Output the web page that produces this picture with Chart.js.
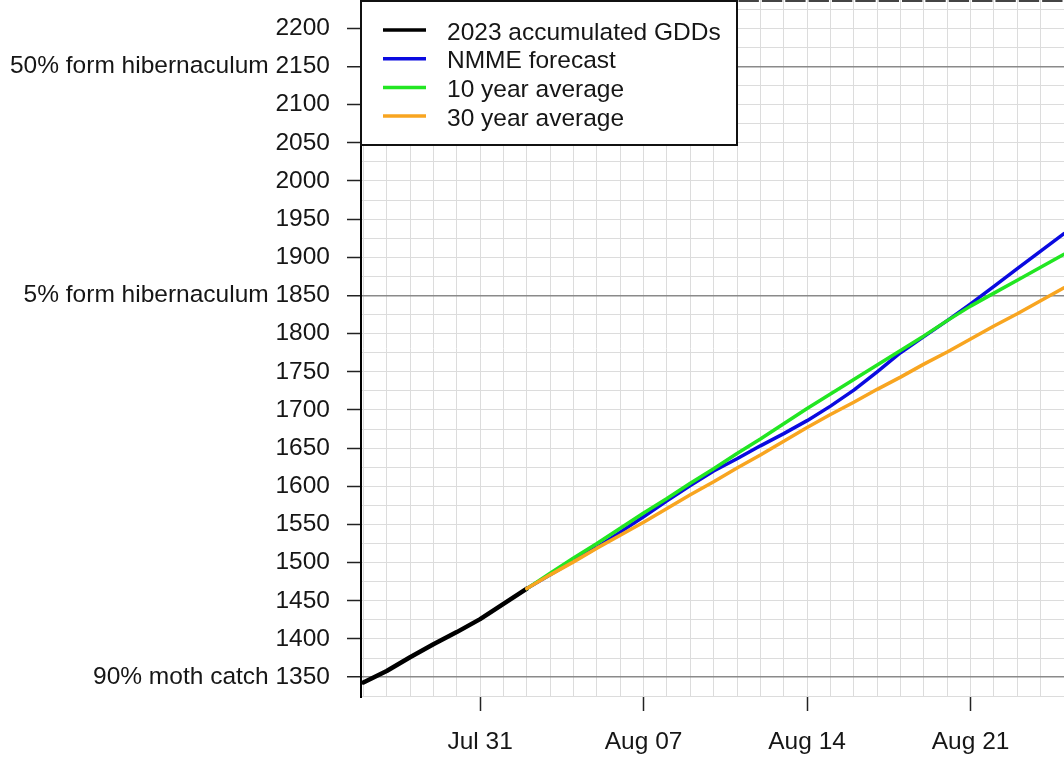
<!DOCTYPE html>
<html>
<head>
<meta charset="utf-8">
<script src="https://cdn.jsdelivr.net/npm/chart.js@4/dist/chart.umd.min.js"></script>
<style>
  html, body { margin: 0; padding: 0; background: #fff; }
  #wrap { width: 1064px; height: 759px; position: relative; }
</style>
</head>
<body>
<div id="wrap"><canvas id="gdd-chart"></canvas></div>
<script>
// days counted from Jul 31 (0)
const observedDays = [-5, -4, -3, -2, -1, 0, 1, 2];
const observedGdd = [1343, 1358, 1376, 1393, 1409, 1426, 1446, 1466];

const forecastDays = [2, 3, 4, 5, 6, 7, 8, 9, 10, 11, 12, 13, 14, 15, 16, 17, 18, 19, 20, 21, 22, 23, 24, 25];
const nmmeForecast = [1466, 1484, 1502, 1520, 1540, 1560, 1581, 1601, 1620, 1636, 1653, 1669, 1686, 1705, 1726, 1750, 1775, 1796, 1817, 1839, 1862, 1885, 1908, 1931];
const tenYearAvg = [1466, 1486, 1506, 1525, 1545, 1565, 1584, 1604, 1623, 1643, 1662, 1682, 1702, 1721, 1740, 1759, 1778, 1797, 1817, 1836, 1853, 1870, 1887, 1904];
const thirtyYearAvg = [1466, 1484, 1501, 1519, 1536, 1553, 1571, 1589, 1606, 1624, 1641, 1659, 1677, 1694, 1710, 1727, 1743, 1760, 1776, 1793, 1810, 1826, 1843, 1860];

const tickDays = [0, 7, 14, 21];
const tickLabels = ['Jul 31', 'Aug 07', 'Aug 14', 'Aug 21'];

const thresholdValues = [1350, 1850, 2150];
const thresholdLabels = ['90% moth catch', '5% form hibernaculum', '50% form hibernaculum'];

const FONT = '"Liberation Sans", Arial, sans-serif';
const FONT_SIZE = 24.5;
const TEXT = '#161616';

function toPoints(days, values) {
  return days.map((d, i) => ({ x: d, y: values[i] }));
}

// legend box in the top-left corner of the plot
const legendBox = {
  id: 'legendBox',
  afterDatasetsDraw(chart) {
    const ctx = chart.ctx;
    const left = chart.chartArea.left;
    ctx.save();
    ctx.fillStyle = '#fff';
    ctx.fillRect(left, 1, 376, 144);
    ctx.strokeStyle = '#111';
    ctx.lineWidth = 2;
    ctx.strokeRect(left, 1, 376, 144);
    ctx.font = FONT_SIZE + 'px ' + FONT;
    ctx.textBaseline = 'middle';
    ctx.fillStyle = TEXT;
    chart.data.datasets.forEach((ds, i) => {
      const y = 30 + i * 28.7;
      ctx.strokeStyle = ds.borderColor;
      ctx.lineWidth = 3.5;
      ctx.beginPath();
      ctx.moveTo(left + 22, y);
      ctx.lineTo(left + 65, y);
      ctx.stroke();
      ctx.fillText(ds.label, left + 86, y + 3);
    });
    ctx.restore();
  }
};

// dashed dark edge along the top of the plot
const topEdge = {
  id: 'topEdge',
  beforeDatasetsDraw(chart) {
    const { ctx, chartArea: a, scales: { x } } = chart;
    const step = x.getPixelForValue(1) - x.getPixelForValue(0);
    const g = x.getPixelForValue(-5);
    ctx.save();
    ctx.strokeStyle = '#444';
    ctx.lineWidth = 2;
    ctx.setLineDash([step - 3, 3]);
    ctx.lineDashOffset = step - 1.5 - (g - a.left);
    ctx.beginPath();
    ctx.moveTo(a.left, 1);
    ctx.lineTo(a.right, 1);
    ctx.stroke();
    ctx.restore();
  }
};

const ctx = document.getElementById('gdd-chart').getContext('2d');
new Chart(ctx, {
  type: 'line',
  data: {
    datasets: [{
      label: '2023 accumulated GDDs',
      data: toPoints(observedDays, observedGdd),
      borderColor: '#000000',
      borderWidth: 4.5,
      order: 4
    }, {
      label: 'NMME forecast',
      data: toPoints(forecastDays, nmmeForecast),
      borderColor: '#0a0ae0',
      borderWidth: 3.5,
      order: 3
    }, {
      label: '10 year average',
      data: toPoints(forecastDays, tenYearAvg),
      borderColor: '#22e622',
      borderWidth: 3.5,
      order: 2
    }, {
      label: '30 year average',
      data: toPoints(forecastDays, thirtyYearAvg),
      borderColor: '#f8a520',
      borderWidth: 3.5,
      order: 1
    }]
  },
  options: {
    responsive: true,
    maintainAspectRatio: false,
    animation: false,
    layout: { padding: 0 },
    elements: {
      point: { radius: 0 },
      line: { tension: 0, borderCapStyle: 'round', borderJoinStyle: 'round' }
    },
    plugins: {
      legend: { display: false },
      tooltip: { enabled: false }
    },
    scales: {
      x: {
        type: 'linear',
        min: -5.1,
        max: 25,
        border: { display: false },
        grid: {
          color: '#dcdcdc',
          lineWidth: 1,
          tickLength: 14,
          tickWidth: 1.5,
          tickColor: c => tickDays.includes(c.tick.value) ? '#222' : 'rgba(0,0,0,0)'
        },
        ticks: {
          stepSize: 1,
          autoSkip: false,
          maxRotation: 0,
          includeBounds: false,
          padding: 17,
          color: TEXT,
          font: { family: FONT, size: FONT_SIZE },
          callback: v => {
            const i = tickDays.indexOf(v);
            return i >= 0 ? tickLabels[i] : '';
          }
        },
        afterFit: s => {
          s.height = 62;
          s.paddingLeft = 0;
          s.paddingRight = 0;
        }
      },
      y: {
        min: 1324,
        max: 2237,
        border: { display: true, color: '#000', width: 2 },
        grid: {
          color: c => thresholdValues.includes(c.tick.value) ? '#8a8a8a' : '#dcdcdc',
          lineWidth: c => thresholdValues.includes(c.tick.value) ? 1.5 : 1,
          tickLength: 14,
          tickWidth: 1.5,
          tickColor: c => c.tick.value % 50 === 0 ? '#222' : 'rgba(0,0,0,0)'
        },
        ticks: {
          stepSize: 25,
          autoSkip: false,
          includeBounds: false,
          padding: 17,
          color: TEXT,
          font: { family: FONT, size: FONT_SIZE },
          callback: v => {
            if (v % 50 !== 0) return '';
            const i = thresholdValues.indexOf(v);
            return i >= 0 ? thresholdLabels[i] + ' ' + v : String(v);
          }
        },
        afterFit: s => {
          s.width = 361;
          s.paddingTop = 0;
          s.paddingBottom = 0;
        }
      }
    }
  },
  plugins: [topEdge, legendBox]
});
</script>
</body>
</html>
